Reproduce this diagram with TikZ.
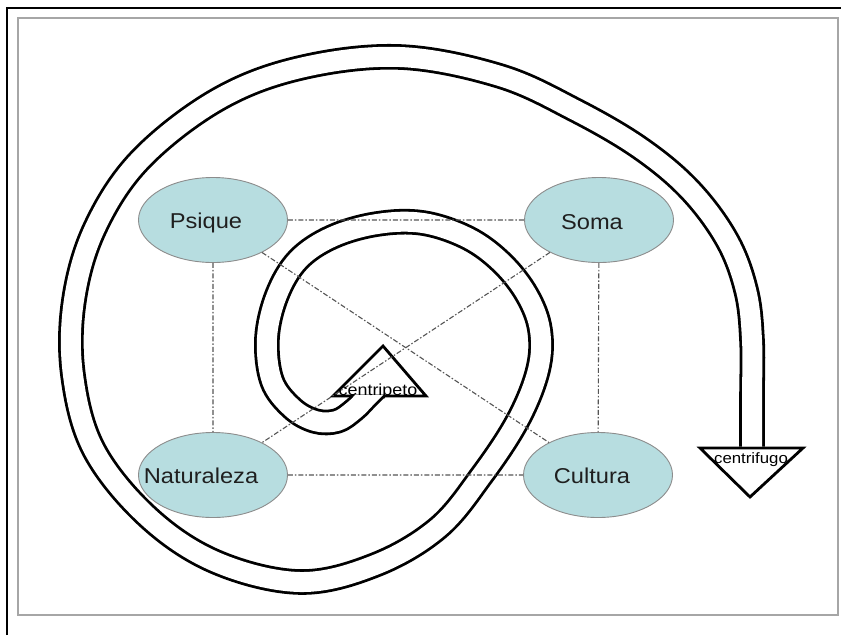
\documentclass[tikz,border=0pt]{standalone}
\usepackage{fontspec}
\setmainfont{Liberation Sans}
\usetikzlibrary{shapes.geometric}
\definecolor{ovalfill}{RGB}{183,221,224}
\definecolor{ovalline}{RGB}{140,140,140}
\definecolor{linkgray}{RGB}{85,85,85}
\tikzset{
concept/.style={draw=ovalline,line width=0.9pt,fill=ovalfill,ellipse,inner sep=0pt,minimum width=149pt,minimum height=85pt},
concept text/.style={anchor=base,text=black!88,xscale=1.1,font=\fontsize{21.5}{24}\selectfont},
link/.style={draw=linkgray,line width=1.1pt,dash pattern=on 5pt off 2pt on 1.5pt off 2pt},
band/.style={line width=2.8pt,line join=round,double=white,double distance=20pt},
arrow head/.style={draw,fill=white,line width=2.8pt,line join=miter},
arrow text/.style={anchor=base,inner sep=0pt,xscale=1.12,font=\fontsize{15}{16}\selectfont},
}
\begin{document}
\begin{tikzpicture}[x=1pt,y=-1pt]
\useasboundingbox (0,0) rectangle (841,635);
% frame
\fill[white] (0,0) rectangle (841,635);
\draw[line width=1.5pt] (7,635) -- (7,8) -- (841,8);
\draw[gray!70,line width=1.5pt] (18,18) rectangle (838,615);

% arrow heads
\draw[arrow head] (333,396) -- (383,346) -- (426,396) -- cycle;
\draw[arrow head] (700,448) -- (803,448) -- (750,497) -- cycle;

% the spiral band
\begin{scope}[even odd rule]
\clip (0,0) rectangle (841,635)
  (336,394.6) -- (383,350) -- (423,394.6) -- cycle
  (704,446.6) -- (799,446.6) -- (750,493) -- cycle;
\draw[band] plot[smooth,tension=0.6] coordinates {
  (752,475) (752,400) (752,340) (746,290) (727,240) (690,190)
  (640,148) (575,110) (500,76) (400,57) (300,68) (217,100)
  (140,160) (95,228) (74,300) (73,375) (94,450) (148,517)
  (216,562) (300,582) (375,565) (438,528) (482,475) (518,420)
  (538,370) (540,330) (527,295) (502,263) (468,238) (423,223)
  (377,224) (332,237) (298,260) (277,295) (267,338) (272,381)
  (292,408) (315,421) (337,421) (354,410) (367,397) (378,386)};
\end{scope}

% ovals
\node[concept] (psique) at (213,220) {};
\node[concept] (soma)   at (599,220) {};
\node[concept] (natur)  at (213,475) {};
\node[concept] (cult)   at (598,475) {};

\path[link] (psique) -- (soma)
            (natur)  -- (cult)
            (psique) -- (natur)
            (soma)   -- (cult)
            (psique) -- (cult)
            (soma)   -- (natur);

\node[concept text] at (206,228) {Psique};
\node[concept text] at (592,229) {Soma};
\node[concept text] at (201,483) {Naturaleza};
\node[concept text] at (592,483) {Cultura};

\node[arrow text,font=\fontsize{16}{17}\selectfont] at (378,395) {centripeto};
\node[arrow text] at (751,463) {centrifugo};
\end{tikzpicture}
\end{document}
